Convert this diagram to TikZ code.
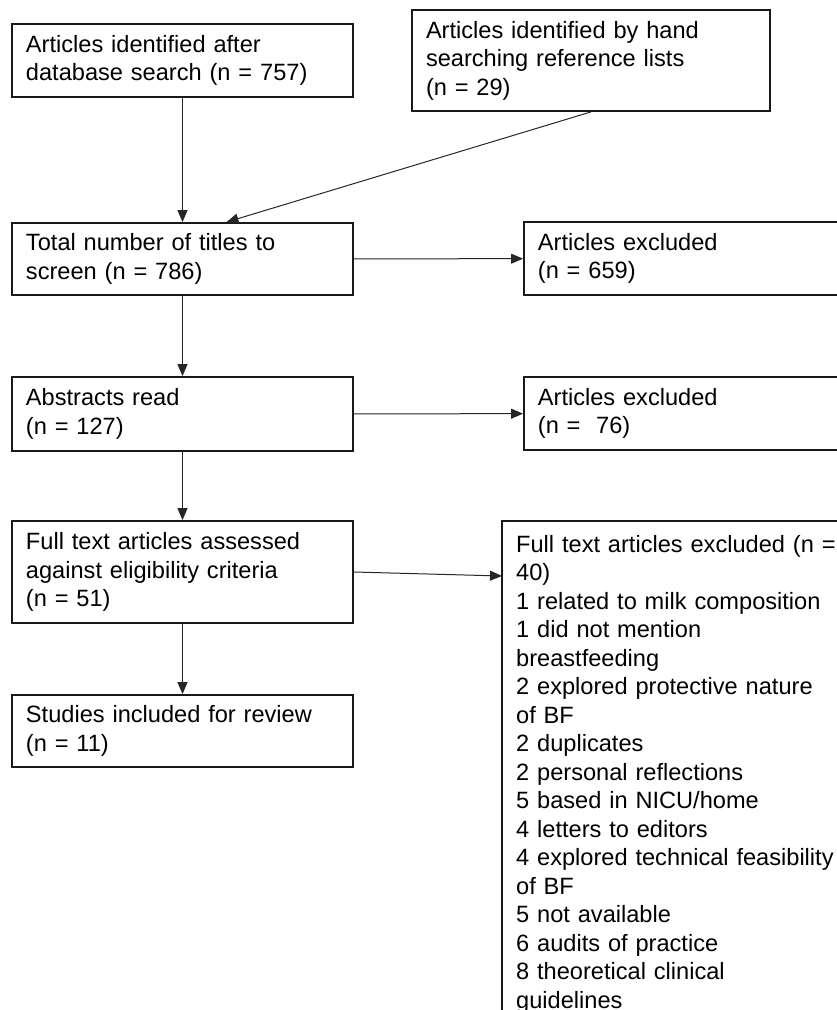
\documentclass[tikz,border=0pt]{standalone}
\usepackage{fontspec}
\setmainfont{Liberation Sans}
\usetikzlibrary{arrows.meta,calc}

\tikzset{
  boxtext/.style={font=\fontsize{23.6bp}{28.5bp}\selectfont, align=left},
  flowbox/.style={boxtext, draw=black!90, line width=1.8bp, inner xsep=14bp, inner ysep=0bp,
                  text width=313bp, minimum height=73bp},
  sidebox/.style={flowbox, text width=372bp, anchor=west},
  link/.style={draw=black!85, line width=1bp, -{Triangle[length=12bp,width=10bp]}}
}

\begin{document}
\begin{tikzpicture}[x=1bp,y=-1bp]
  \useasboundingbox (0,0) rectangle (837,1010);
  \clip (0,0) rectangle (837,1010);

  % main column
  \node[flowbox] (search) at (182.5,60.5) {Articles identified after\\database search (n = 757)};
  \node[flowbox, text width=330bp, minimum height=101bp] (hand) at (591,60.5)
       {Articles identified by hand\\searching reference lists\\(n = 29)};
  \node[flowbox, minimum height=72bp] (titles) at (182.5,259) {Total number of titles to\\screen (n = 786)};
  \node[flowbox, minimum height=74bp] (abstracts) at (182.5,414) {Abstracts read\\(n = 127)};
  \node[flowbox, minimum height=102bp] (fulltext) at (182.5,572)
       {Full text articles assessed\\against eligibility criteria\\(n = 51)};
  \node[flowbox, minimum height=72bp] (included) at (182.5,731) {Studies included for review\\(n = 11)};

  % exclusion column
  \node[sidebox] (excl1) at (523,258.5) {Articles excluded\\(n = 659)};
  \node[sidebox] (excl2) at (523,413.5) {Articles excluded\\(n = \ 76)};
  \node[boxtext, anchor=north west, inner xsep=14bp, inner ysep=14bp, text width=330bp] (excl3) at (502,521)
       {Full text articles excluded (n =\\40)\\1 related to milk composition\\1 did not mention\\breastfeeding\\2 explored protective nature\\of BF\\2 duplicates\\2 personal reflections\\5 based in NICU/home\\4 letters to editors\\4 explored technical feasibility\\of BF\\5 not available\\6 audits of practice\\8 theoretical clinical\\guidelines};
  \draw[draw=black!90, line width=1.8bp] (excl3.north west |- 0,1040) -- (excl3.north west) -- ++(400,0);

  % connectors
  \coordinate (handin) at ($(titles.north)+(44,0)$);
  \coordinate (excl3in) at (502,576);
  \draw[link] (search) -- (titles);
  \draw[link] (hand.south) -- (handin);
  \draw[link] (titles) -- (excl1);
  \draw[link] (titles) -- (abstracts);
  \draw[link] (abstracts) -- (excl2);
  \draw[link] (abstracts) -- (fulltext);
  \draw[link] (fulltext.east) -- (excl3in);
  \draw[link] (fulltext) -- (included);
\end{tikzpicture}
\end{document}
